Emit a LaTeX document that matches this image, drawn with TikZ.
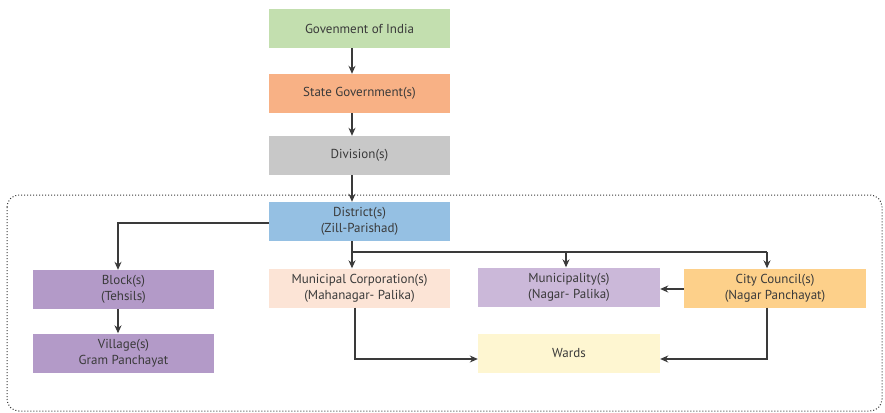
\documentclass[tikz,border=0pt]{standalone}
\usepackage{fontspec}
\setmainfont{PT Sans}
\usetikzlibrary{arrows.meta}
\definecolor{cGov}{HTML}{C3DFAF}
\definecolor{cState}{HTML}{F8B185}
\definecolor{cDiv}{HTML}{C8C8C8}
\definecolor{cDist}{HTML}{95C0E3}
\definecolor{cBlock}{HTML}{B39AC8}
\definecolor{cMC}{HTML}{FCE4D6}
\definecolor{cMun}{HTML}{CBB8D9}
\definecolor{cCity}{HTML}{FDD08A}
\definecolor{cWard}{HTML}{FEF6D1}
\definecolor{cText}{HTML}{3A3A3A}
\definecolor{cLine}{HTML}{3A3A3A}
\tikzset{
  box/.style={draw=none, minimum height=39pt, inner sep=0pt, align=center,
    font=\fontsize{13}{16}\selectfont, text=cText},
  conn/.style={draw=cLine, line width=1.2pt, -{Stealth[length=8pt,width=7pt]}},
  plain/.style={draw=cLine, line width=1.2pt},
}
\begin{document}
\begin{tikzpicture}[x=1pt,y=-1pt]
\useasboundingbox (0,0) rectangle (885,412);
\draw[cLine, line width=1pt, dash pattern=on 1pt off 2pt, rounded corners=12pt] (7,195) rectangle (882,411);
\node[box, fill=cGov, minimum width=181pt] (gov) at (359.5,28.5) {Govenment of India};
\node[box, fill=cState, minimum width=181pt] (state) at (359.5,93.5) {State Government(s)};
\node[box, fill=cDiv, minimum width=181pt] (div) at (359.5,155.5) {Division(s)};
\node[box, fill=cDist, minimum width=181pt] (dist) at (359.5,221.5) {District(s)\\(Zill-Parishad)};
\node[box, fill=cBlock, minimum width=181pt] (block) at (123.5,289.5) {Block(s)\\(Tehsils)};
\node[box, fill=cBlock, minimum width=181pt] (vill) at (123.5,353) {Village(s)\\Gram Panchayat};
\node[box, fill=cMC, minimum width=181pt] (mc) at (359.5,288) {Municipal Corporation(s)\\(Mahanagar- Palika)};
\node[box, fill=cMun, minimum width=182pt] (mun) at (569,287) {Municipality(s)\\(Nagar- Palika)};
\node[box, fill=cCity, minimum width=182pt] (city) at (775,288) {City Council(s)\\(Nagar Panchayat)};
\node[box, fill=cWard, minimum width=182pt] (ward) at (569,353) {Wards};
\coordinate (b1) at (352,252);
\coordinate (b2) at (767,252);
\draw[conn] (gov.south -| 352,0) -- (state.north -| 352,0);
\draw[conn] (state.south -| 352,0) -- (div.north -| 352,0);
\draw[conn] (div.south -| 352,0) -- (dist.north -| 352,0);
\draw[conn] (dist.west |- 0,223) -| (block.north -| 118,0);
\draw[conn] (block.south -| 118,0) -- (vill.north -| 118,0);
\draw[conn] (dist.south -| 352,0) -- (mc.north -| 352,0);
\draw[plain] (b1) -- (b2);
\draw[conn] (566,252) -- (mun.north -| 566,0);
\draw[conn] (b2) -- (city.north -| 767,0);
\draw[conn] (city.west |- 0,289) -- (mun.east |- 0,289);
\draw[conn] (mc.south -| 355,0) |- (ward.west |- 0,359);
\draw[conn] (city.south -| 767,0) |- (ward.east |- 0,359);
\end{tikzpicture}
\end{document}
